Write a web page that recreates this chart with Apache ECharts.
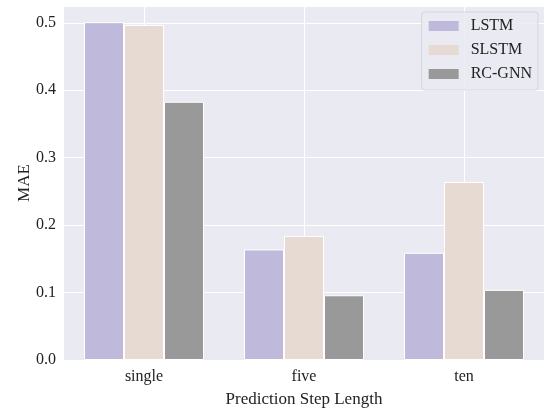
<!DOCTYPE html>
<html lang="en">
<head>
  <meta charset="UTF-8">
  <title>MAE</title>
  <script src="https://cdn.jsdelivr.net/npm/echarts@6/dist/echarts.min.js"></script>
</head>
<body style="margin:0;">
     <div id="main" style="width:544px; height:413px;"></div>
     <script>
       // data
       var steps = ['single', 'five', 'ten'];
       var lstm = [0.501, 0.164, 0.159];
       var slstm = [0.497, 0.184, 0.264];
       var rcgnn = [0.383, 0.096, 0.104];
       var yTicks = [0, 0.1, 0.2, 0.3, 0.4, 0.5];

       var font = 'Liberation Serif, Times New Roman, serif';
       var mychat = echarts.init(document.getElementById('main'));

       function barSeries(name, data, color) {
         return {
           name: name,
           type: 'bar',
           data: data,
           barGap: '0%',
           barCategoryGap: '25%',
           z: 3,
           itemStyle: { color: color, borderColor: '#ffffff', borderWidth: 1 }
         };
       }

       var option = {
         animation: false,
         textStyle: { fontFamily: font },
         grid: {
           left: 64, right: 0, top: 6, bottom: 50,
           show: true, backgroundColor: '#eaeaf2', borderWidth: 0
         },
         legend: {
           orient: 'vertical',
           right: 6, top: 12,
           icon: 'rect',
           itemWidth: 30, itemHeight: 10, itemGap: 8,
           padding: [6, 6, 8, 7],
           backgroundColor: 'rgba(234,234,242,0.85)',
           borderColor: '#d6d6de', borderWidth: 1, borderRadius: 3,
           textStyle: { fontFamily: font, fontSize: 16, color: '#222', padding: [0, 0, 0, 7] },
           itemStyle: { borderWidth: 0 }
         },
         xAxis: {
           type: 'category',
           data: steps,
           name: 'Prediction Step Length',
           nameLocation: 'middle',
           nameGap: 31,
           nameTextStyle: { fontFamily: font, fontSize: 17, color: '#222' },
           axisLine: { show: false },
           axisTick: { show: false },
           axisLabel: { fontFamily: font, fontSize: 16, color: '#222', margin: 9 },
           splitLine: { show: true, alignWithLabel: true, lineStyle: { color: '#ffffff', width: 1 } }
         },
         yAxis: {
           type: 'value',
           min: 0, max: 0.525, interval: 0.1,
           name: 'MAE',
           nameLocation: 'middle',
           nameGap: 31,
           nameMoveOverlap: false,
           nameTextStyle: { fontFamily: font, fontSize: 17, color: '#222' },
           axisLine: { show: false },
           axisTick: { show: false },
           axisLabel: {
             fontFamily: font, fontSize: 16, color: '#222', margin: 8,
             formatter: function (v) {
               for (var i = 0; i < yTicks.length; i++) {
                 if (Math.abs(v - yTicks[i]) < 1e-6) return yTicks[i].toFixed(1);
               }
               return '';
             }
           },
           splitLine: { lineStyle: { color: '#ffffff', width: 1 } }
         },
         series: [
           barSeries('LSTM', lstm, '#bfb9dc'),
           barSeries('SLSTM', slstm, '#e6dad2'),
           barSeries('RC-GNN', rcgnn, '#999999')
         ]
       };
       mychat.setOption(option);
     </script>
</body>
</html>
